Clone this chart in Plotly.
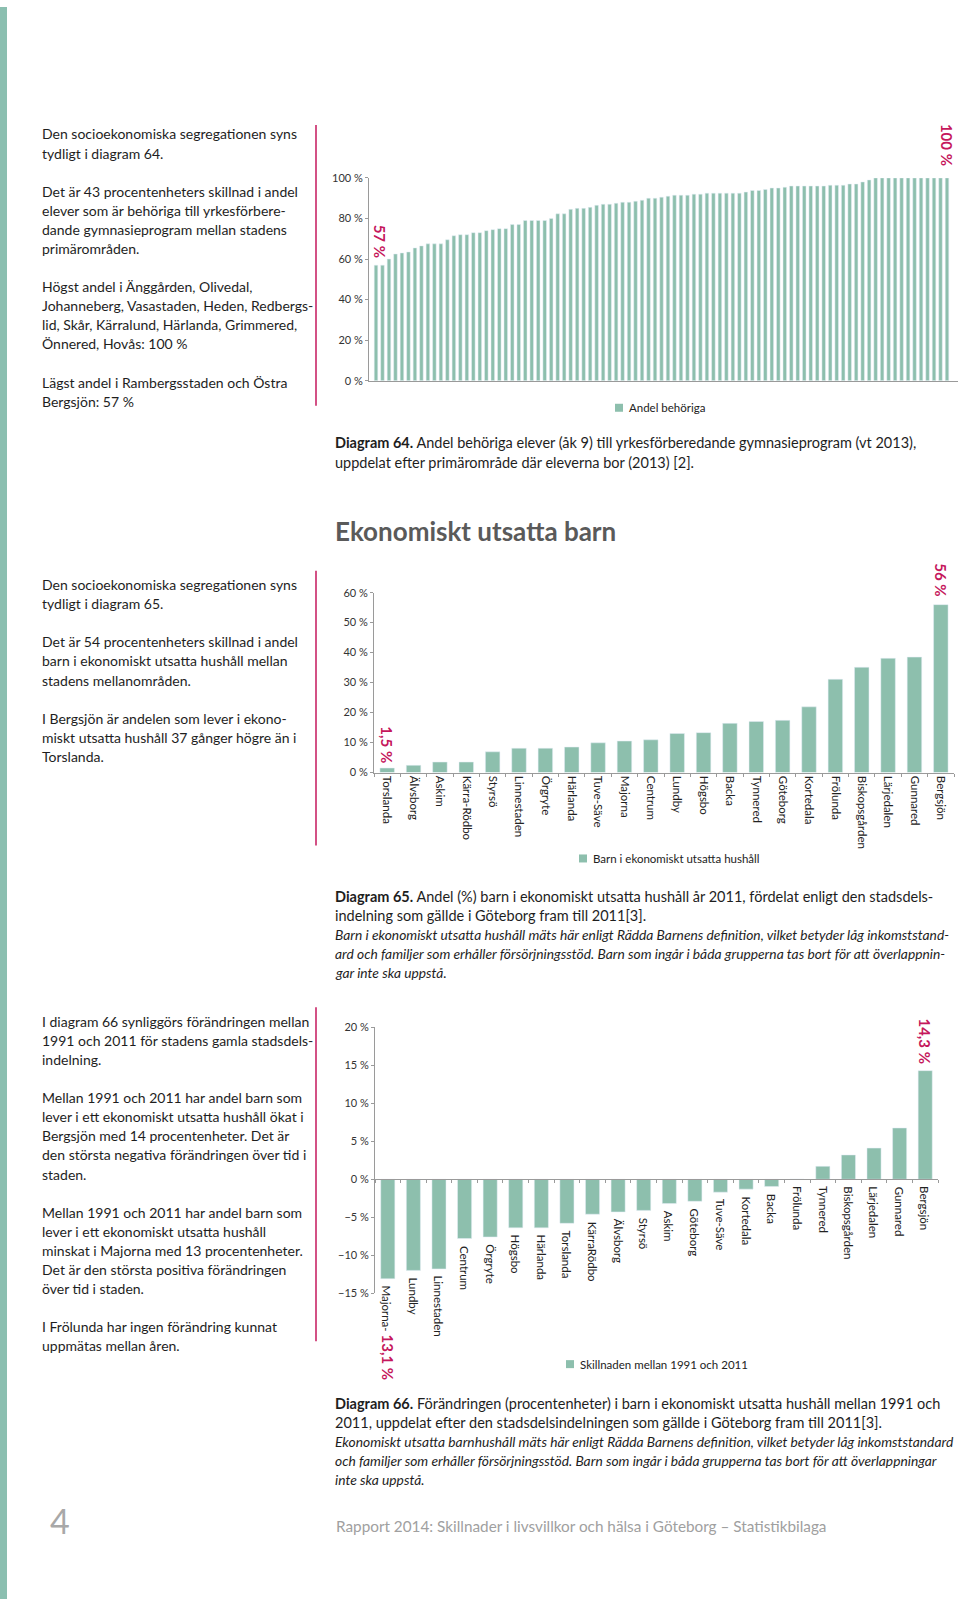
import plotly.graph_objects as go

# ---------------- DATA ----------------
# Diagram 64: share eligible per primary area (sorted, 89 areas)
d64_values = [57, 57, 60, 62.5, 63, 63.5, 65.5, 66.5, 67.5, 67.5, 67.5, 69.5, 71.5, 72, 72,
              73, 73, 74, 74.5, 75, 75, 77, 77, 79, 79, 79, 79, 80, 82.3, 82.3,
              84.5, 85, 85, 85.5, 86.5, 87, 87, 87.5, 88, 88, 88.5, 89, 90, 90, 90.5,
              91, 91.5, 91.5, 91.5, 92, 92, 92.5, 92.5, 92.5, 92.5, 92.5, 92.5, 93, 93.8, 93.8,
              94.3, 95, 95, 95.4, 96, 96, 96, 96, 96, 96, 96.4, 96.4, 96.4, 97, 97,
              98, 99, 100, 100, 100, 100, 100, 100, 100, 100, 100, 100, 100, 100]
d64_categories = [f"Område {i + 1}" for i in range(len(d64_values))]

# Diagram 65
d65_categories = ["Torslanda", "Älvsborg", "Askim", "Kärra-Rödbo", "Styrsö", "Linnestaden",
                  "Örgryte", "Härlanda", "Tuve-Säve", "Majorna", "Centrum", "Lundby", "Högsbo",
                  "Backa", "Tynnered", "Göteborg", "Kortedala", "Frölunda", "Biskopsgården",
                  "Lärjedalen", "Gunnared", "Bergsjön"]
d65_values = [1.5, 2.4, 3.5, 3.5, 6.9, 8.1, 8.1, 8.5, 9.9, 10.5, 10.9, 13.0, 13.3,
              16.4, 17.0, 17.4, 21.9, 31.1, 35.1, 38.1, 38.5, 56.0]

# Diagram 66
d66_categories = ["Majorna", "Lundby", "Linnestaden", "Centrum", "Örgryte", "Högsbo", "Härlanda",
                  "Torslanda", "KärraRödbo", "Älvsborg", "Styrsö", "Askim", "Göteborg", "Tuve-Säve",
                  "Kortedala", "Backa", "Frölunda", "Tynnered", "Biskopsgården", "Lärjedalen",
                  "Gunnared", "Bergsjön"]
d66_values = [-13.1, -12.0, -11.8, -7.8, -7.6, -6.4, -6.4, -5.8, -4.6, -4.3, -4.1, -3.2, -2.9,
              -1.7, -1.3, -0.95, 0.0, 1.7, 3.2, 4.1, 6.75, 14.3]

# ---------------- STYLE / LAYOUT HELPERS ----------------
W, H = 960, 1605
TEAL = "#8dbfad"
MAGENTA = "#c5175c"
TXT = "#1e1e1e"
AX = "#9a9a9a"
FONT = "Lato"


def fx(x):
    return x / W


def fy(y):
    y = 802 + (y - 802) * 1.0075
    return 1 - y / H


fig = go.Figure()

fig.add_trace(go.Bar(x=d64_categories, y=d64_values, marker_color=TEAL, xaxis="x", yaxis="y",
                     name="Andel behöriga", showlegend=False))
fig.add_trace(go.Bar(x=d65_categories, y=d65_values, marker_color=TEAL, xaxis="x2", yaxis="y2",
                     name="Barn i ekonomiskt utsatta hushåll", showlegend=False))
fig.add_trace(go.Bar(x=d66_categories, y=d66_values, marker_color=TEAL, xaxis="x3", yaxis="y3",
                     name="Skillnaden mellan 1991 och 2011", showlegend=False))

tickfont = dict(family=FONT, size=11, color="#333")

# chart 3 y domain and 0-position
y3_dom = [fy(1293), fy(1027)]
y3_rng = [-15, 20]
zero3 = y3_dom[0] + (0 - y3_rng[0]) / (y3_rng[1] - y3_rng[0]) * (y3_dom[1] - y3_dom[0])

fig.update_layout(
    width=W, height=H, margin=dict(l=0, r=0, t=0, b=0),
    paper_bgcolor="white", plot_bgcolor="white",
    font=dict(family=FONT, color=TXT),
    bargap=0.45,
    xaxis=dict(domain=[fx(369), fx(958)], anchor="y", showticklabels=False, ticks="",
               showline=True, linecolor=AX, linewidth=1, showgrid=False, fixedrange=True),
    yaxis=dict(domain=[fy(380), fy(177)], anchor="x", range=[0, 100], dtick=20,
               ticksuffix=" %", tickfont=tickfont, showline=True, linecolor=AX, ticks="outside",
               ticklen=3, tickcolor=AX, showgrid=False, zeroline=False),
    xaxis2=dict(domain=[fx(374), fx(954)], anchor="y2", tickangle=90, tickfont=dict(family=FONT, size=11.5, color="#222"),
                showline=True, linecolor=AX, ticks="outside", tickson="boundaries", ticklen=3,
                tickcolor=AX, showgrid=False),
    yaxis2=dict(domain=[fy(772), fy(592)], anchor="x2", range=[0, 60], dtick=10,
                ticksuffix=" %", tickfont=tickfont, showline=True, linecolor=AX, ticks="outside",
                ticklen=3, tickcolor=AX, showgrid=False, zeroline=False),
    xaxis3=dict(domain=[fx(375), fx(938)], anchor="free", position=zero3, showticklabels=False,
                showline=True, linecolor=AX, ticks="outside", tickson="boundaries", ticklen=3,
                tickcolor=AX, showgrid=False),
    yaxis3=dict(domain=y3_dom, anchor="x3", range=y3_rng, dtick=5,
                ticksuffix=" %", tickfont=tickfont, showline=True, linecolor=AX, ticks="outside",
                ticklen=3, tickcolor=AX, showgrid=False, zeroline=False),
)

ann = []
shapes = []

# left teal strip
shapes.append(dict(type="rect", xref="paper", yref="paper", x0=0, x1=fx(7), y0=0, y1=1,
                   fillcolor="#8bbfb0", line=dict(width=0), layer="below"))
# magenta separators
for y0, y1 in [(124, 405), (570, 845), (1007, 1341)]:
    shapes.append(dict(type="line", xref="paper", yref="paper", x0=fx(316), x1=fx(316),
                       y0=fy(y0), y1=fy(y1), line=dict(color=MAGENTA, width=1.5)))


def text_block(lines, y_start, x=40, step=19.1, size=14, italic=False, color=TXT):
    for i, t in enumerate(lines):
        if not t:
            continue
        if italic:
            t = f"<i>{t}</i>"
        ann.append(dict(xref="paper", yref="paper", x=fx(x), y=fy(y_start + i * step), text=t,
                        showarrow=False, xanchor="left", yanchor="middle",
                        font=dict(family=FONT, size=size, color=color)))


text_block(["Den socioekonomiska segregationen syns", "tydligt i diagram 64.", "",
            "Det är 43 procentenheters skillnad i andel",
            "elever som är behöriga till yrkesförbere-",
            "dande gymnasieprogram mellan stadens", "primärområden.", "",
            "Högst andel i Änggården, Olivedal,",
            "Johanneberg, Vasastaden, Heden, Redbergs-",
            "lid, Skår, Kärralund, Härlanda, Grimmered,",
            "Önnered, Hovås: 100 %", "",
            "Lägst andel i Rambergsstaden och Östra", "Bergsjön: 57 %"], 133)

text_block(["Den socioekonomiska segregationen syns", "tydligt i diagram 65.", "",
            "Det är 54 procentenheters skillnad i andel",
            "barn i ekonomiskt utsatta hushåll mellan",
            "stadens mellanområden.", "",
            "I Bergsjön är andelen som lever i ekono-",
            "miskt utsatta hushåll 37 gånger högre än i", "Torslanda."], 584)

text_block(["I diagram 66 synliggörs förändringen mellan",
            "1991 och 2011 för stadens gamla stadsdels-", "indelning.", "",
            "Mellan 1991 och 2011 har andel barn som",
            "lever i ett ekonomiskt utsatta hushåll ökat i",
            "Bergsjön med 14 procentenheter. Det är",
            "den största negativa förändringen över tid i", "staden.", "",
            "Mellan 1991 och 2011 har andel barn som",
            "lever i ett ekonomiskt utsatta hushåll",
            "minskat i Majorna med 13 procentenheter.",
            "Det är den största positiva förändringen", "över tid i staden.", "",
            "I Frölunda har ingen förändring kunnat", "uppmätas mellan åren."], 1021)

# captions
CX = 333
text_block(["<b>Diagram 64.</b> Andel behöriga elever (åk 9) till yrkesförberedande gymnasieprogram (vt 2013),",
            "uppdelat efter primärområde där eleverna bor (2013) [2]."], 442, x=CX, step=19.5, size=14.5)
text_block(["<b>Diagram 65.</b> Andel (%) barn i ekonomiskt utsatta hushåll år 2011, fördelat enligt den stadsdels-",
            "indelning som gällde i Göteborg fram till 2011[3]."], 896, x=CX, step=19.5, size=14.5)
text_block(["Barn i ekonomiskt utsatta hushåll mäts här enligt Rädda Barnens definition, vilket betyder låg inkomststand-",
            "ard och familjer som erhåller försörjningsstöd. Barn som ingår i båda grupperna tas bort för att överlappnin-",
            "gar inte ska uppstå."], 934, x=CX, step=19.2, size=13.8, italic=True)
text_block(["<b>Diagram 66.</b> Förändringen (procentenheter) i barn i ekonomiskt utsatta hushåll mellan 1991 och",
            "2011, uppdelat efter den stadsdelsindelningen som gällde i Göteborg fram till 2011[3]."],
           1403, x=CX, step=19.5, size=14.5)
text_block(["Ekonomiskt utsatta barnhushåll mäts här enligt Rädda Barnens definition, vilket betyder låg inkomststandard",
            "och familjer som erhåller försörjningsstöd. Barn som ingår i båda grupperna tas bort för att överlappningar",
            "inte ska uppstå."], 1441, x=CX, step=19.2, size=13.8, italic=True)

# heading
ann.append(dict(xref="paper", yref="paper", x=fx(333), y=fy(530), text="<b>Ekonomiskt utsatta barn</b>",
                showarrow=False, xanchor="left", yanchor="middle",
                font=dict(family=FONT, size=26, color="#5a5a5a")))
# footer
ann.append(dict(xref="paper", yref="paper", x=fx(334), y=fy(1526),
                text="Rapport 2014: Skillnader i livsvillkor och hälsa i Göteborg – Statistikbilaga",
                showarrow=False, xanchor="left", yanchor="middle",
                font=dict(family=FONT, size=15.3, color="#a0a0a0")))
ann.append(dict(xref="paper", yref="paper", x=fx(48), y=fy(1520), text="4",
                showarrow=False, xanchor="left", yanchor="middle",
                font=dict(family=FONT, size=34, color="#a8a8a8")))

# legends (small square + text)
for (sx, ty, label) in [(615, 407, "Andel behöriga"), (579, 858, "Barn i ekonomiskt utsatta hushåll"),
                        (566, 1364, "Skillnaden mellan 1991 och 2011")]:
    shapes.append(dict(type="rect", xref="paper", yref="paper", x0=fx(sx), x1=fx(sx + 8),
                       y0=fy(ty + 4), y1=fy(ty - 4), fillcolor=TEAL, line=dict(width=0)))
    ann.append(dict(xref="paper", yref="paper", x=fx(sx + 12), y=fy(ty), text=label, showarrow=False,
                    xanchor="left", yanchor="middle", font=dict(family=FONT, size=11.5, color="#222")))

# magenta value labels
mfont = dict(family=FONT, size=15, color=MAGENTA)
ann.append(dict(xref="x", yref="y", x=d64_categories[0], y=d64_values[0], xshift=4, yshift=6,
                text="<b>57 %</b>", textangle=90, showarrow=False, xanchor="center", yanchor="bottom",
                font=mfont))
ann.append(dict(xref="x", yref="y", x=d64_categories[-1], y=d64_values[-1], yshift=10,
                text="<b>100 %</b>", textangle=90, showarrow=False, xanchor="center", yanchor="bottom",
                font=mfont))
ann.append(dict(xref="x2", yref="y2", x=d65_categories[-1], y=d65_values[-1], yshift=6,
                text="<b>56 %</b>", textangle=90, showarrow=False, xanchor="center", yanchor="bottom",
                font=mfont))
ann.append(dict(xref="x2", yref="y2", x=d65_categories[0], y=d65_values[0], yshift=3,
                text="<b>1,5 %</b>", textangle=90, showarrow=False, xanchor="center", yanchor="bottom",
                font=mfont))
ann.append(dict(xref="x3", yref="y3", x=d66_categories[-1], y=d66_values[-1], yshift=4,
                text="<b>14,3 %</b>", textangle=90, showarrow=False, xanchor="center", yanchor="bottom",
                font=mfont))

# chart 3 category labels below bar ends
for c, v in zip(d66_categories, d66_values):
    t = c
    if c == "Majorna":
        t = (f"Majorna- <span style='color:{MAGENTA};font-size:15px'>"
             f"<b>13,1 %</b></span>")
    ann.append(dict(xref="x3", yref="y3", x=c, y=min(v, 0), yshift=-5, text=t, textangle=90,
                    showarrow=False, xanchor="center", yanchor="top",
                    font=dict(family=FONT, size=11.5, color="#222")))

fig.update_layout(annotations=ann, shapes=shapes)
fig.write_html("out.html", config={"displayModeBar": False},
               post_script="document.body.style.margin='0';document.body.style.overflow='hidden';")
